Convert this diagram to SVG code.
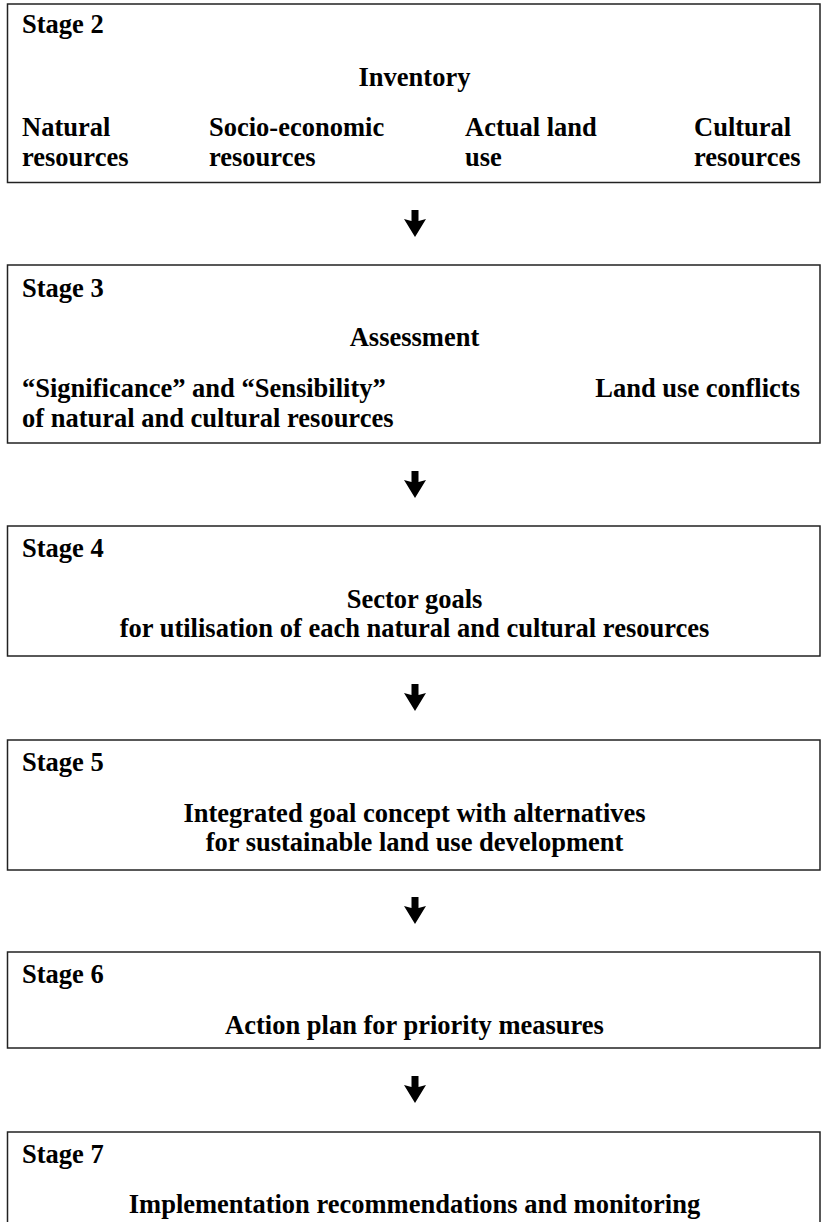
<svg xmlns="http://www.w3.org/2000/svg" width="821" height="1222" viewBox="0 0 821 1222">
<style>
.box{fill:#fff;stroke:#222;stroke-width:1.5}
text{font-family:"Liberation Serif","Times New Roman",serif;font-weight:bold;font-size:26.5px;fill:#000}
.c{text-anchor:middle}
.e{text-anchor:end}
.arr{fill:#000}
</style>
<defs>
<path id="arrow" d="M-3.5,0 H3.5 V11 L11,9 L0,27 L-11,9 L-3.5,11 Z"/>
</defs>
<rect width="821" height="1222" fill="#fff"/>
<g id="stage2">
<rect class="box" x="7.5" y="4" width="812.5" height="178.5"/>
<text x="22" y="33">Stage 2</text>
<text class="c" x="414.5" y="86">Inventory</text>
<text x="22" y="136">Natural</text>
<text x="22" y="166">resources</text>
<text x="209" y="136">Socio-economic</text>
<text x="209" y="166">resources</text>
<text x="465" y="136">Actual land</text>
<text x="465" y="166">use</text>
<text x="694" y="136">Cultural</text>
<text x="694" y="166">resources</text>
</g>
<g id="stage3">
<rect class="box" x="7.5" y="265" width="812.5" height="178"/>
<text x="22" y="297">Stage 3</text>
<text class="c" x="414.5" y="346">Assessment</text>
<text x="22" y="397">“Significance” and “Sensibility”</text>
<text x="22" y="427">of natural and cultural resources</text>
<text class="e" x="800" y="397">Land use conflicts</text>
</g>
<g id="stage4">
<rect class="box" x="7.5" y="526" width="812.5" height="130"/>
<text x="22" y="557">Stage 4</text>
<text class="c" x="414.5" y="608">Sector goals</text>
<text class="c" x="414.5" y="637">for utilisation of each natural and cultural resources</text>
</g>
<g id="stage5">
<rect class="box" x="7.5" y="740" width="812.5" height="130"/>
<text x="22" y="771">Stage 5</text>
<text class="c" x="414.5" y="822">Integrated goal concept with alternatives</text>
<text class="c" x="414.5" y="851">for sustainable land use development</text>
</g>
<g id="stage6">
<rect class="box" x="7.5" y="952" width="812.5" height="96"/>
<text x="22" y="983">Stage 6</text>
<text class="c" x="414.5" y="1034">Action plan for priority measures</text>
</g>
<g id="stage7">
<rect class="box" x="7.5" y="1132" width="812.5" height="110"/>
<text x="22" y="1163">Stage 7</text>
<text class="c" x="414.5" y="1213">Implementation recommendations and monitoring</text>
</g>
<g id="connectors" class="arr">
<use href="#arrow" x="415" y="210"/>
<use href="#arrow" x="415" y="471"/>
<use href="#arrow" x="415" y="684"/>
<use href="#arrow" x="415" y="897"/>
<use href="#arrow" x="415" y="1076"/>
</g>
</svg>
